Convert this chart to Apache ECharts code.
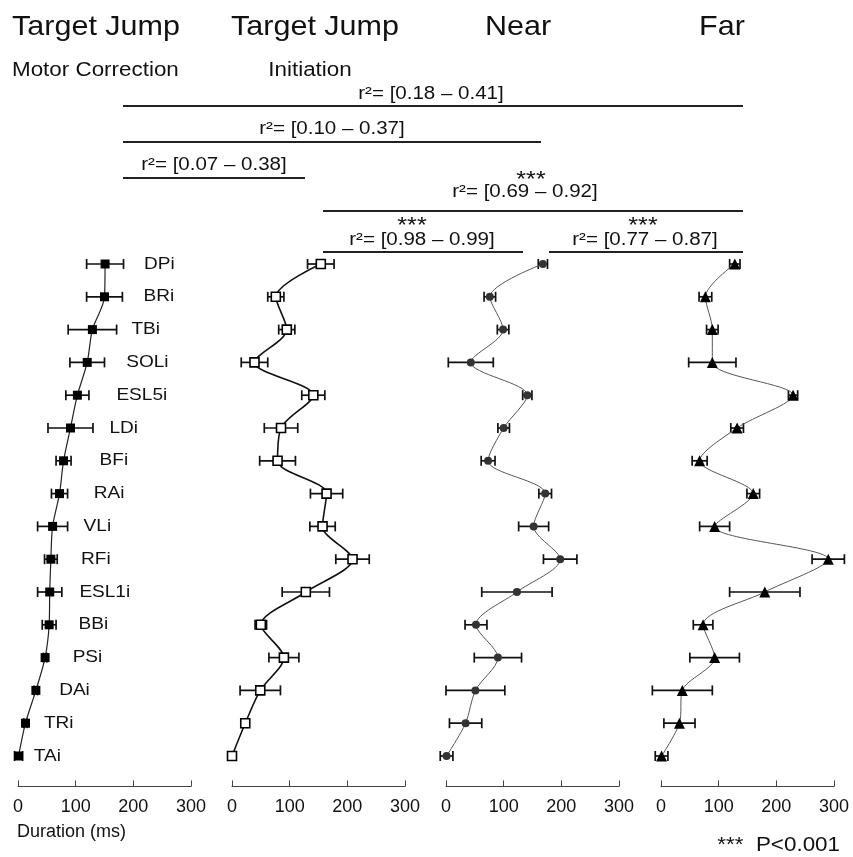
<!DOCTYPE html>
<html>
<head>
<meta charset="utf-8">
<script src="https://cdn.jsdelivr.net/npm/echarts@6/dist/echarts.min.js"></script>
<style>
  html, body { margin: 0; padding: 0; background: #fff; }
  #chart { width: 853px; height: 857px; }
</style>
</head>
<body>
<div id="chart"></div>
<script>
var muscles = ['DPi', 'BRi', 'TBi', 'SOLi', 'ESL5i', 'LDi', 'BFi', 'RAi', 'VLi', 'RFi', 'ESL1i', 'BBi', 'PSi', 'DAi', 'TRi', 'TAi']

// mean duration (ms) and error, one pair per panel
var mcMean = [151, 150, 129, 120, 103, 91, 79, 72, 60, 57, 55, 54, 47, 31, 13, 1]
var mcErr = [32, 31, 42, 30, 20, 39, 13, 14, 26, 11, 21, 12, 3, 3, 3, 7]
var initMean = [154, 76, 95, 39, 141, 85, 79, 164, 157, 209, 128, 50, 90, 49, 23, 0]
var initErr = [23, 14, 14, 23, 20, 29, 31, 28, 22, 29, 41, 10, 26, 35, 4, 2]
var nearMean = [168, 76, 99, 43, 141, 100, 73, 172, 152, 198, 123, 52, 90, 51, 34, 1]
var nearErr = [8, 10, 10, 39, 8, 10, 12, 11, 26, 29, 61, 19, 41, 51, 28, 11]
var farMean = [128, 77, 89, 89, 229, 132, 67, 160, 93, 290, 180, 73, 93, 37, 32, 1]
var farErr = [9, 11, 10, 41, 8, 11, 13, 11, 26, 28, 61, 17, 43, 52, 27, 11]

var xTicks = [0, 100, 200, 300]
var panelTitles = ['Target Jump', 'Target Jump', 'Near', 'Far']

var FONT = "'Liberation Sans', Arial, sans-serif"
var chart = echarts.init(document.getElementById('chart'))

var gridLefts = [18, 232, 446, 661]
var grids = [], xAxes = [], yAxes = [], series = []

function errSeries(idx, mean, err, withLabels) {
    var data = mean.map(function (m, i) { return [m, err[i], i] })
    return {
        type: 'custom',
        xAxisIndex: idx,
        yAxisIndex: idx,
        z: 2,
        clip: false,
        data: data,
        renderItem: function (params, api) {
            var m = api.value(0), e = api.value(1), row = api.value(2)
            var lo = api.coord([m - e, row])
            var hi = api.coord([m + e, row])
            var mid = api.coord([m, row])
            var cap = 5
            var st = { stroke: '#111', lineWidth: 1.7 }
            var children = [
                { type: 'line', shape: { x1: lo[0], y1: lo[1], x2: hi[0], y2: hi[1] }, style: st },
                { type: 'line', shape: { x1: lo[0], y1: lo[1] - cap, x2: lo[0], y2: lo[1] + cap }, style: st },
                { type: 'line', shape: { x1: hi[0], y1: hi[1] - cap, x2: hi[0], y2: hi[1] + cap }, style: st }
            ]
            if (withLabels) {
                // muscle name sits to the right of the point
                var gap = 15 + 24 * Math.min(1, m / 90)
                children.push({
                    type: 'text',
                    x: mid[0] + gap,
                    y: mid[1],
                    scaleX: 1.12,
                    style: {
                        text: muscles[row], fill: '#111', font: '17px ' + FONT,
                        textAlign: 'left', textVerticalAlign: 'middle'
                    }
                })
            }
            return { type: 'group', children: children }
        }
    }
}

var panels = [
    { mean: mcMean, err: mcErr, symbol: 'rect', size: 9, fill: '#000', border: '#000', line: '#222', lw: 1.2 },
    { mean: initMean, err: initErr, symbol: 'rect', size: 9, fill: '#fff', border: '#000', line: '#111', lw: 1.6 },
    { mean: nearMean, err: nearErr, symbol: 'circle', size: 8, fill: '#333', border: '#333', line: '#555', lw: 1 },
    { mean: farMean, err: farErr, symbol: 'triangle', size: 11, fill: '#000', border: '#000', line: '#555', lw: 1 }
]

panels.forEach(function (p, idx) {
    grids.push({ left: gridLefts[idx], width: 173, top: 247.6, height: 524.8 })
    xAxes.push({
        type: 'value', gridIndex: idx, min: 0, max: 300, interval: 100,
        offset: 14,
        axisLine: { show: true, lineStyle: { color: '#444', width: 1 } },
        axisTick: { show: true, inside: true, length: 6, lineStyle: { color: '#444' } },
        splitLine: { show: false },
        axisLabel: {
            color: '#111', fontFamily: FONT, fontSize: 18, margin: 12,
            formatter: function (v) { return xTicks.indexOf(v) >= 0 ? String(v) : '' }
        }
    })
    yAxes.push({
        type: 'category', gridIndex: idx, data: muscles, inverse: true, show: false
    })
    series.push(errSeries(idx, p.mean, p.err, idx === 0))
    series.push({
        type: 'line',
        xAxisIndex: idx,
        yAxisIndex: idx,
        z: 3,
        smooth: 0.3,
        data: p.mean.map(function (m, i) { return [m, i] }),
        symbol: p.symbol,
        symbolSize: p.size,
        itemStyle: { color: p.fill, borderColor: p.border, borderWidth: p.fill === '#fff' ? 1.6 : 0 },
        lineStyle: { color: p.line, width: p.lw },
        animation: false
    })
})

function txt(x, y, s, size, align, sx) {
    return {
        type: 'text', x: x, y: y, scaleX: sx || 1.14,
        style: { text: s, font: size + 'px ' + FONT, fill: '#111', textAlign: align || 'center', textVerticalAlign: 'middle' }
    }
}
function hline(x1, x2, y) {
    return { type: 'line', shape: { x1: x1, y1: y, x2: x2, y2: y }, style: { stroke: '#222', lineWidth: 1.8 } }
}

var graphics = [
    txt(96, 27, panelTitles[0], 28, 'center', 1.09),
    txt(315, 27, panelTitles[1], 28, 'center', 1.09),
    txt(518, 27, panelTitles[2], 28, 'center', 1.09),
    txt(722, 27, panelTitles[3], 28, 'center', 1.09),
    txt(12, 70, 'Motor Correction', 20, 'left', 1.12),
    txt(310, 70, 'Initiation', 20, 'center', 1.12),
    txt(431, 94, 'r²= [0.18 – 0.41]', 18), hline(123, 743, 106),
    txt(332, 129, 'r²= [0.10 – 0.37]', 18), hline(123, 541, 142),
    txt(214, 165, 'r²= [0.07 – 0.38]', 18), hline(123, 305, 178),
    txt(531, 180, '***', 22),
    txt(525, 192, 'r²= [0.69 – 0.92]', 18), hline(323, 743, 211),
    txt(412, 226, '***', 22),
    txt(422, 240, 'r²= [0.98 – 0.99]', 18), hline(323, 523, 252),
    txt(643, 226, '***', 22),
    txt(645, 240, 'r²= [0.77 – 0.87]', 18), hline(549, 743, 252),
    txt(17, 832, 'Duration (ms)', 18, 'left', 1.0),
    txt(840, 845, '***  P<0.001', 20, 'right', 1.12)
]

var option = {
    animation: false,
    grid: grids,
    xAxis: xAxes,
    yAxis: yAxes,
    series: series,
    graphic: graphics
}
chart.setOption(option)
</script>
</body>
</html>
